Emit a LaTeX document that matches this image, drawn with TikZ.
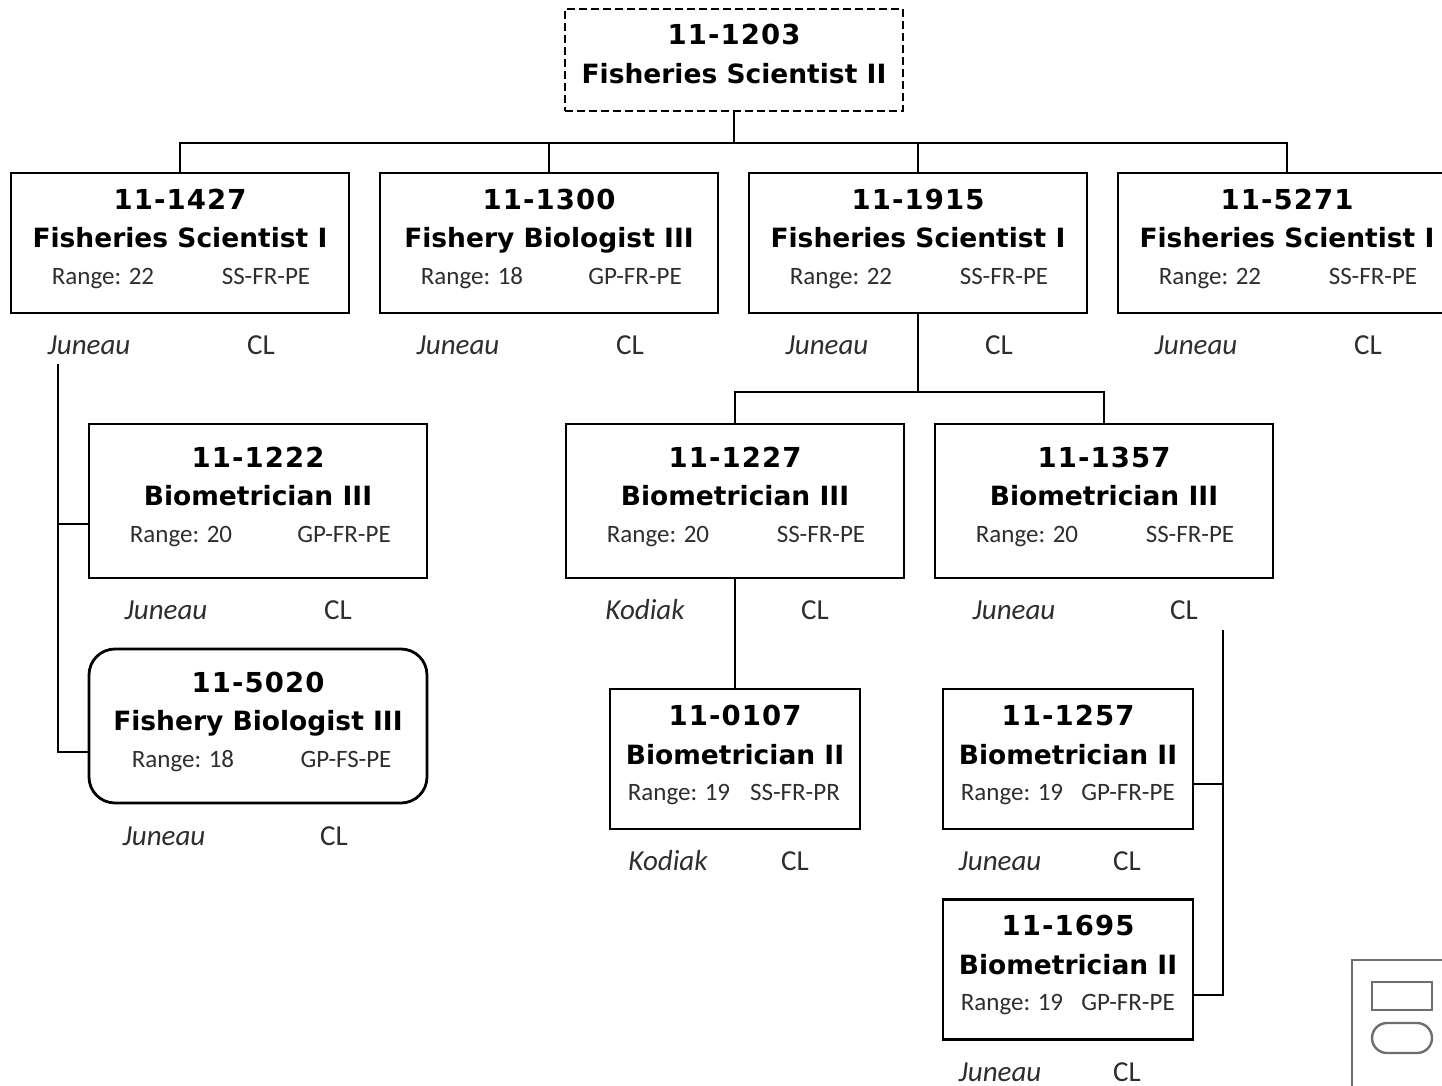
\documentclass[tikz,border=0pt]{standalone}
\usepackage{fontspec}
\newfontfamily\numfont{DejaVu Sans}[LetterSpace=4]
\newfontfamily\ttlfont{DejaVu Sans}
\newfontfamily\carl{Carlito}
\definecolor{rng}{HTML}{2E2E2E}
\definecolor{lgd}{HTML}{6E6E6E}
\tikzset{
  box/.style={draw, line width=2.8pt, minimum width=338pt, inner sep=0pt},
  nbox/.style={box, minimum width=250pt, minimum height=140pt},
  numtxt/.style={anchor=base, inner sep=0pt, font=\numfont\bfseries\fontsize{27.5}{30}\selectfont},
  ttltxt/.style={anchor=base, inner sep=0pt, font=\ttlfont\bfseries\fontsize{26.5}{30}\selectfont},
  rngtxt/.style={anchor=base, inner sep=0pt, text=rng, font=\carl\fontsize{25}{30}\selectfont},
  loctxt/.style={anchor=base, inner sep=0pt, text=rng, font=\carl\itshape\fontsize{29}{32}\selectfont},
  cltxt/.style={anchor=base, inner sep=0pt, text=rng, font=\carl\fontsize{29}{32}\selectfont},
  conn/.style={line width=2.8pt},
  lgdline/.style={draw=lgd, line width=2.4pt}
}
% wide box: name cx cy h number title range code
\newcommand\wide[8]{%
  \node[box, minimum height=#4pt] (#1) at (#2,#3) {};
  \node[numtxt] (#1n) at (#2,#3-34) {#5};
  \node[ttltxt] (#1t) at (#2,#3+4) {#6};
  \node[rngtxt] (#1r) at (#2-77,#3+41) {Range: #7};
  \node[rngtxt] (#1c) at (#2+86,#3+41) {#8};
}
% narrow box: name cx cy number title range code
\newcommand\narrow[7]{%
  \node[nbox] (#1) at (#2,#3) {};
  \node[numtxt] (#1n) at (#2,#3-34) {#4};
  \node[ttltxt] (#1t) at (#2,#3+5) {#5};
  \node[rngtxt] (#1r) at (#2-56,#3+41) {Range: #6};
  \node[rngtxt] (#1c) at (#2+60,#3+41) {#7};
}
% location line: name cx baseline-y place dxplace dxcl
\newcommand\place[6]{%
  \node[loctxt] (#1l) at (#2+#5,#3) {#4};
  \node[cltxt] (#1k) at (#2+#6,#3) {CL};
}
\begin{document}
\begin{tikzpicture}[x=1pt,y=-1pt]
\clip (0,0) rectangle (1442,1086);

% top box
\node[box, dashed, dash pattern=on 8pt off 4pt, minimum height=102pt] (top) at (734,60) {};
\node[numtxt] (topn) at (734,45) {11-1203};
\node[ttltxt] (topt) at (734,84) {Fisheries Scientist II};

% row 1
\wide{A}{180}{243}{140}{11-1427}{Fisheries Scientist I}{22}{SS-FR-PE}
\wide{B}{549}{243}{140}{11-1300}{Fishery Biologist III}{18}{GP-FR-PE}
\wide{C}{918}{243}{140}{11-1915}{Fisheries Scientist I}{22}{SS-FR-PE}
\wide{D}{1287}{243}{140}{11-5271}{Fisheries Scientist I}{22}{SS-FR-PE}
\place{A}{180}{354}{Juneau}{-91}{81}
\place{B}{549}{354}{Juneau}{-91}{81}
\place{C}{918}{354}{Juneau}{-91}{81}
\place{D}{1287}{354}{Juneau}{-91}{81}

% row 2
\wide{E}{258}{501}{154}{11-1222}{Biometrician III}{20}{GP-FR-PE}
\wide{F}{735}{501}{154}{11-1227}{Biometrician III}{20}{SS-FR-PE}
\wide{G}{1104}{501}{154}{11-1357}{Biometrician III}{20}{SS-FR-PE}
\place{E}{258}{619}{Juneau}{-92}{80}
\place{F}{735}{619}{Kodiak}{-90}{80}
\place{G}{1104}{619}{Juneau}{-90}{80}

% rounded box
\node[box, rounded corners=26pt, minimum height=154pt] (H) at (258,726) {};
\node[numtxt] (Hn) at (258,692) {11-5020};
\node[ttltxt] (Ht) at (258,730) {Fishery Biologist III};
\node[rngtxt] (Hr) at (183,767) {Range: 18};
\node[rngtxt] (Hc) at (346,767) {GP-FS-PE};
\place{H}{258}{845}{Juneau}{-94}{76}

% narrow boxes
\narrow{I}{735}{759}{11-0107}{Biometrician II}{19}{SS-FR-PR}
\narrow{J}{1068}{759}{11-1257}{Biometrician II}{19}{GP-FR-PE}
\narrow{K}{1068}{969.5}{11-1695}{Biometrician II}{19}{GP-FR-PE}
\place{I}{735}{870}{Kodiak}{-67}{60}
\place{J}{1068}{870}{Juneau}{-68}{59}
\place{K}{1068}{1081}{Juneau}{-68}{59}

% connectors
\coordinate (bus1) at (734,143);
\draw[conn] (top.south) -- (bus1);
\draw[conn] (A.north) |- (bus1) -| (D.north);
\draw[conn] (B.north) -- (B.north |- bus1);
\draw[conn] (C.north) -- (C.north |- bus1);

\coordinate (bus2) at (918,392);
\draw[conn] (C.south) -- (bus2);
\draw[conn] (F.north) |- (bus2) -| (G.north);
\draw[conn] (F.south) -- (I.north);

\coordinate (lt) at (58,364);
\coordinate (lm) at (58,524);
\coordinate (lb) at (58,752);
\draw[conn] (lt) -- (lb) -- (H.west |- lb);
\draw[conn] (lm) -- (E.west |- lm);

\coordinate (rt) at (1223,630);
\coordinate (rm) at (1223,784);
\coordinate (rb) at (1223,995);
\draw[conn] (rt) -- (rb) -- (K.east |- rb);
\draw[conn] (rm) -- (J.east |- rm);

% legend fragment
\coordinate (lgA) at (1352,1090);
\coordinate (lgB) at (1352,960);
\coordinate (lgC) at (1446,960);
\draw[lgdline] (lgA) -- (lgB) -- (lgC);
\node[lgdline, minimum width=60pt, minimum height=28pt, inner sep=0pt] (lg1) at (1402,996) {};
\node[lgdline, rounded corners=15pt, minimum width=60pt, minimum height=30pt, inner sep=0pt] (lg2) at (1402,1038) {};
\end{tikzpicture}
\end{document}
